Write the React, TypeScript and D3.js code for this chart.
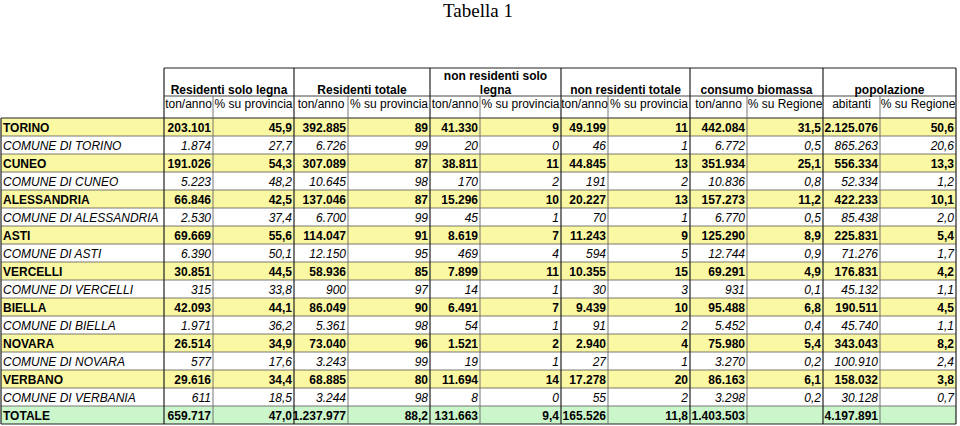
import React from "react";
import * as d3 from "d3";

// ---------- DATA ----------
const rowLabels = [
  "TORINO", "COMUNE DI TORINO", "CUNEO", "COMUNE DI CUNEO", "ALESSANDRIA",
  "COMUNE DI ALESSANDRIA", "ASTI", "COMUNE DI ASTI", "VERCELLI", "COMUNE DI VERCELLI",
  "BIELLA", "COMUNE DI BIELLA", "NOVARA", "COMUNE DI NOVARA", "VERBANO",
  "COMUNE DI VERBANIA", "TOTALE",
];
const rowKinds = [
  "prov", "comune", "prov", "comune", "prov", "comune", "prov", "comune", "prov",
  "comune", "prov", "comune", "prov", "comune", "prov", "comune", "total",
];

const groupHeaders = [
  ["Residenti solo legna"],
  ["Residenti totale"],
  ["non residenti solo", "legna"],
  ["non residenti totale"],
  ["consumo biomassa"],
  ["popolazione"],
];
const subHeaders = [
  "ton/anno", "% su provincia", "ton/anno", "% su provincia", "ton/anno", "% su provincia",
  "ton/anno", "% su provincia", "ton/anno", "% su Regione", "abitanti", "% su Regione",
];

const resSoloLegnaTon = [203101, 1874, 191026, 5223, 66846, 2530, 69669, 6390, 30851, 315, 42093, 1971, 26514, 577, 29616, 611, 659717];
const resSoloLegnaPct = [45.9, 27.7, 54.3, 48.2, 42.5, 37.4, 55.6, 50.1, 44.5, 33.8, 44.1, 36.2, 34.9, 17.6, 34.4, 18.5, 47.0];
const resTotaleTon = [392885, 6726, 307089, 10645, 137046, 6700, 114047, 12150, 58936, 900, 86049, 5361, 73040, 3243, 68885, 3244, 1237977];
const resTotalePct = [89, 99, 87, 98, 87, 99, 91, 95, 85, 97, 90, 98, 96, 99, 80, 98, 88.2];
const nonResSoloLegnaTon = [41330, 20, 38811, 170, 15296, 45, 8619, 469, 7899, 14, 6491, 54, 1521, 19, 11694, 8, 131663];
const nonResSoloLegnaPct = [9, 0, 11, 2, 10, 1, 7, 4, 11, 1, 7, 1, 2, 1, 14, 0, 9.4];
const nonResTotaleTon = [49199, 46, 44845, 191, 20227, 70, 11243, 594, 10355, 30, 9439, 91, 2940, 27, 17278, 55, 165526];
const nonResTotalePct = [11, 1, 13, 2, 13, 1, 9, 5, 15, 3, 10, 2, 4, 1, 20, 2, 11.8];
const biomassaTon = [442084, 6772, 351934, 10836, 157273, 6770, 125290, 12744, 69291, 931, 95488, 5452, 75980, 3270, 86163, 3298, 1403503];
const biomassaPct = [31.5, 0.5, 25.1, 0.8, 11.2, 0.5, 8.9, 0.9, 4.9, 0.1, 6.8, 0.4, 5.4, 0.2, 6.1, 0.2, null];
const popAbitanti = [2125076, 865263, 556334, 52334, 422233, 85438, 225831, 71276, 176831, 45132, 190511, 45740, 343043, 100910, 158032, 30128, 4197891];
const popPct = [50.6, 20.6, 13.3, 1.2, 10.1, 2.0, 5.4, 1.7, 4.2, 1.1, 4.5, 1.1, 8.2, 2.4, 3.8, 0.7, null];

const columns: (number | null)[][] = [
  resSoloLegnaTon, resSoloLegnaPct, resTotaleTon, resTotalePct,
  nonResSoloLegnaTon, nonResSoloLegnaPct, nonResTotaleTon, nonResTotalePct,
  biomassaTon, biomassaPct, popAbitanti, popPct,
];
// decimals per column: 0 integer, 1 one decimal, -1 auto
const colDecimals = [0, 1, 0, -1, 0, -1, 0, -1, 0, 1, 0, 1];

// ---------- LAYOUT ----------
const W = 960;
const H = 426;
const colEdges = [164, 213, 294, 348, 430, 480, 561, 608, 690, 747, 823, 880, 956];
const groupEdges = [164, 294, 430, 561, 690, 823, 956];
const topY = 68;
const groupBottom = 96;
const headBottom = 118;
const rowH = 18;

const YELLOW = "#FBF8A4";
const GREEN = "#CBF5CB";
const FONT = "'Liberation Sans', Arial, Helvetica, sans-serif";

const it = d3.formatLocale({ decimal: ",", thousands: ".", grouping: [3], currency: ["€", ""] });
const fInt = it.format(",.0f");
const f1 = it.format(",.1f");

function fmt(v: number | null, dec: number): string {
  if (v === null || v === undefined) return "";
  if (dec === 0) return fInt(v);
  if (dec === 1) return f1(v);
  return Number.isInteger(v) ? fInt(v) : f1(v);
}

export default function App() {
  const y = d3
    .scaleBand<string>()
    .domain(rowLabels)
    .range([headBottom, headBottom + rowLabels.length * rowH])
    .padding(0);

  const bottom = headBottom + rowLabels.length * rowH;

  return (
    <div style={{ position: "absolute", left: 0, top: 0 }}>
      <svg width={W} height={H} style={{ display: "block", background: "#fff" }}>
        <text x={478} y={17} textAnchor="middle" fontFamily="'Liberation Serif', 'Times New Roman', serif" fontSize={19} fill="#000">
          Tabella 1
        </text>

        {/* row backgrounds */}
        {rowLabels.map((lab, i) => {
          const kind = rowKinds[i];
          if (kind === "comune") return null;
          return (
            <rect key={"bg" + i} x={1} y={y(lab)!} width={colEdges[colEdges.length - 1] - 1} height={rowH}
              fill={kind === "total" ? GREEN : YELLOW} />
          );
        })}

        {/* horizontal lines */}
        <line x1={164} x2={956} y1={topY} y2={topY} stroke="#222" strokeWidth={1.2} />
        <line x1={164} x2={956} y1={groupBottom} y2={groupBottom} stroke="#444" strokeWidth={1} />
        {d3.range(rowLabels.length + 1).map((i) => {
          const yy = headBottom + i * rowH;
          return (
            <line key={"h" + i} x1={1} x2={956} y1={yy} y2={yy}
              stroke={i === 0 || i === rowLabels.length ? "#222" : "#555"} strokeWidth={i === 0 || i === rowLabels.length ? 1.2 : 0.8} />
          );
        })}

        {/* vertical lines */}
        <line x1={1} x2={1} y1={headBottom} y2={bottom} stroke="#222" strokeWidth={1.2} />
        {groupEdges.map((x, i) => (
          <line key={"gv" + i} x1={x} x2={x} y1={topY} y2={groupBottom} stroke="#222" strokeWidth={1.2} />
        ))}
        {colEdges.map((x, i) => {
          const major = groupEdges.includes(x);
          return (
            <line key={"cv" + i} x1={x} x2={x} y1={groupBottom} y2={bottom}
              stroke={major ? "#222" : "#666"} strokeWidth={major ? 1.2 : 0.9} />
          );
        })}

        {/* group headers */}
        {groupHeaders.map((lines, i) => {
          const cx = (groupEdges[i] + groupEdges[i + 1]) / 2;
          return lines.map((t, j) => (
            <text key={"g" + i + "_" + j} x={cx} y={93.5 - (lines.length - 1 - j) * 14}
              textAnchor="middle" fontFamily={FONT} fontSize={12} fontWeight="bold" fill="#000">
              {t}
            </text>
          ));
        })}

        {/* sub headers */}
        {subHeaders.map((t, i) => (
          <text key={"s" + i} x={(colEdges[i] + colEdges[i + 1]) / 2} y={107.5}
            textAnchor="middle" fontFamily={FONT} fontSize={12} fill="#000">
            {t}
          </text>
        ))}

        {/* row labels & values */}
        {rowLabels.map((lab, i) => {
          const kind = rowKinds[i];
          const top = y(lab)!;
          const bold = kind !== "comune";
          const style = {
            fontFamily: FONT,
            fontSize: 12,
            fontWeight: bold ? ("bold" as const) : ("normal" as const),
            fontStyle: bold ? "normal" : "italic",
          };
          return (
            <g key={"r" + i}>
              <text x={3} y={top + 13.5} fill="#000" style={style}>{lab}</text>
              {columns.map((col, c) => (
                <text key={"c" + c} x={colEdges[c + 1] - 2} y={top + 13.5} textAnchor="end" fill="#000" style={style}>
                  {fmt(col[i], colDecimals[c])}
                </text>
              ))}
            </g>
          );
        })}
      </svg>
    </div>
  );
}
